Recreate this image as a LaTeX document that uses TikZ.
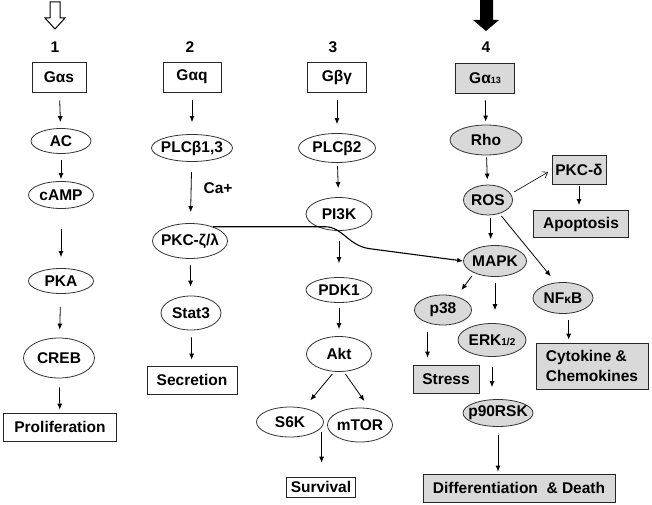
\documentclass[tikz,border=0pt]{standalone}
\usepackage{fontspec}
\setmainfont{Liberation Sans}
\usetikzlibrary{arrows.meta}
\usetikzlibrary{shapes.geometric}

\begin{document}
\begin{tikzpicture}[
    x = 1pt, y = -1pt,
    >={Latex[length=6pt, width=5pt]},
    every node/.style = {font = \bfseries\fontsize{15.5}{20}\selectfont, inner sep = 0pt},
    box/.style = {draw = black!85, rectangle, line width = 0.8pt},
    oval/.style = {draw = black!80, ellipse, line width = 0.8pt, inner xsep = -6pt},
    shaded/.style = {fill = black!15},
    link/.style = {->, line width = 0.8pt},
  ]
  \useasboundingbox (0,0) rectangle (652,505);

  % incoming signals and pathway numbers
  \draw[line width = 1pt] (50,2) -- (60,2) -- (60,18) -- (65,18) -- (55,29) -- (45,18) -- (50,18) -- cycle;
  \fill (480,0) -- (493,0) -- (493,20) -- (499,20) -- (486,31) -- (473,20) -- (480,20) -- cycle;
  \node (num1) at (55,47) {1};
  \node (num2) at (190,47) {2};
  \node (num3) at (333,47) {3};
  \node (num4) at (486,47) {4};

  % pathway 1
  \node[box, minimum width = 54, minimum height = 30] (gas) at (59,77) {Gαs};
  \node[oval, minimum width = 60, minimum height = 25] (ac) at (61,141) {AC};
  \node[oval, minimum width = 65, minimum height = 27] (camp) at (61,195) {cAMP};
  \node[oval, minimum width = 65, minimum height = 25] (pka) at (61,281) {PKA};
  \node[oval, minimum width = 71, minimum height = 40] (creb) at (59,358) {CREB};
  \node[box, minimum width = 113, minimum height = 28] (prolif) at (60,427) {Proliferation};

  \draw[link, shorten <= 8pt, shorten >= 6pt] (gas) -- (ac);
  \draw[link, shorten <= 6pt, shorten >= 2pt] (ac) -- (camp);
  \draw[link, shorten <= 20pt, shorten >= 11pt] (camp) -- (pka);
  \draw[link, shorten <= 13pt, shorten >= 8pt] (pka) -- (creb);
  \draw[link, shorten <= 9pt, shorten >= 3pt] (creb) -- (prolif);

  % pathway 2
  \node[box, minimum width = 58, minimum height = 30] (gaq) at (192,77) {Gαq};
  \node[oval, minimum width = 81, minimum height = 27] (plcb13) at (192,148) {PLCβ1,3};
  \node[oval, minimum width = 75, minimum height = 35] (pkcz) at (190,241) {PKC-ζ/λ};
  \node[oval, minimum width = 60, minimum height = 34] (stat3) at (191,313) {Stat3};
  \node[box, minimum width = 90, minimum height = 28] (secr) at (192,380) {Secretion};
  \node (ca) at (218,188) {Ca+};

  \draw[link, shorten <= 8pt, shorten >= 12pt] (gaq) -- (plcb13);
  \draw[link, shorten <= 10pt, shorten >= 11pt] (plcb13) -- (pkcz);
  \draw[link, shorten <= 6pt, shorten >= 9pt] (pkcz) -- (stat3);
  \draw[link, shorten <= 7pt, shorten >= 6pt] (stat3) -- (secr);

  % pathway 3
  \node[box, minimum width = 59, minimum height = 30] (gbg) at (337,77) {Gβγ};
  \node[oval, minimum width = 77, minimum height = 29] (plcb2) at (337,148) {PLCβ2};
  \node[oval, minimum width = 66, minimum height = 33] (pi3k) at (339,214) {PI3K};
  \node[oval, minimum width = 66, minimum height = 25] (pdk1) at (339,290) {PDK1};
  \node[oval, minimum width = 65, minimum height = 35] (akt) at (339,354) {Akt};
  \node[oval, minimum width = 67, minimum height = 30] (s6k) at (290,422) {S6K};
  \node[oval, minimum width = 65, minimum height = 34] (mtor) at (360,425) {mTOR};
  \node[box, minimum width = 69, minimum height = 20] (surv) at (321,487) {Survival};

  \draw[link, shorten <= 8pt, shorten >= 9pt] (gbg) -- (plcb2);
  \draw[link, shorten <= 3pt, shorten >= 9pt] (plcb2) -- (pi3k);
  \draw[link, shorten <= 10pt, shorten >= 14pt] (pi3k) -- (pdk1);
  \draw[link, shorten <= 5pt, shorten >= 7pt] (pdk1) -- (akt);
  \draw[link, shorten <= 3pt, shorten >= 10pt] (akt.-105) -- (s6k.45);
  \draw[link, shorten <= 3pt, shorten >= 9pt] (akt.-75) -- (mtor.60);
  \draw[link, shorten <= 4pt, shorten >= 14pt] (s6k.-10) -- (s6k.-10 |- surv.north);

  % pathway 4
  \node[box, shaded, minimum width = 59, minimum height = 30] (ga13) at (485,78) {Gα{\fontsize{9}{10}\selectfont 13}};
  \node[oval, shaded, minimum width = 72, minimum height = 30] (rho) at (486,140) {Rho};
  \node[oval, shaded, minimum width = 49, minimum height = 30] (ros) at (488,200) {ROS};
  \node[box, shaded, minimum width = 54, minimum height = 29] (pkcd) at (579,170) {PKC-δ};
  \node[box, shaded, minimum width = 95, minimum height = 27] (apop) at (581,224) {Apoptosis};
  \node[oval, shaded, minimum width = 63, minimum height = 31] (mapk) at (495,261) {MAPK};
  \node[oval, shaded, minimum width = 57, minimum height = 30] (p38) at (443,310) {p38};
  \node[oval, shaded, minimum width = 68, minimum height = 33] (erk) at (492,340) {ERK{\fontsize{10}{10}\selectfont 1/2}};
  \node[box, shaded, minimum width = 66, minimum height = 28] (stress) at (446,379) {Stress};
  \node[oval, shaded, minimum width = 70, minimum height = 27] (p90) at (498,413) {p90RSK};
  \node[box, shaded, minimum width = 192, minimum height = 28] (diff) at (519,488) {Differentiation~ \& Death};
  \node[oval, shaded, minimum width = 60, minimum height = 31] (nfkb) at (563,298) {NF{\fontsize{12}{12}\selectfont κ}B};
  \node[box, shaded, minimum width = 112, minimum height = 46, align = left] (cyto) at (592,366) {Cytokine \&\\Chemokines};

  \draw[link, shorten <= 7pt, shorten >= 3pt] (ga13) -- (rho);
  \draw[link, shorten <= 2pt, shorten >= 5pt] (rho) -- (ros);
  \draw[-{Straight Barb[length=5pt, width=7pt]}, line width = 0.6pt, shorten <= 4pt, shorten >= 4pt] (ros.15) -- (pkcd.west);
  \draw[link, shorten <= 1pt, shorten >= 5pt] (pkcd.south) -- (pkcd.south |- apop.north);
  \draw[link, shorten <= 3pt, shorten >= 6pt] (ros.-80) -- (ros.-80 |- mapk.north);
  \draw[link, shorten <= 3pt, shorten >= 8pt] (ros.-50) -- (nfkb.115);
  \draw[link, shorten <= 4pt, shorten >= 8pt] (mapk.-150) -- (p38.45);
  \draw[link, shorten <= 6pt, shorten >= 13pt] (mapk.south) -- (mapk.south |- erk.north);
  \draw[link, shorten <= 9pt, shorten >= 7pt] (p38.-140) -- (p38.-140 |- stress.north);
  \draw[link, shorten <= 10pt, shorten >= 12pt] (erk.south) -- (erk.south |- p90.north);
  \draw[link, shorten <= 8pt, shorten >= 2pt] (p90.south) -- (p90.south |- diff.north);
  \draw[link, shorten <= 6pt, shorten >= 3pt] (nfkb.-70) -- (nfkb.-70 |- cyto.north);

  % cross talk
  \draw[->, line width = 1.1pt] (pkcz.32) -- ++(112,0)
    .. controls +(18,0) and +(-22,-3) .. ++(45,22) -- (mapk.west);
\end{tikzpicture}
\end{document}
